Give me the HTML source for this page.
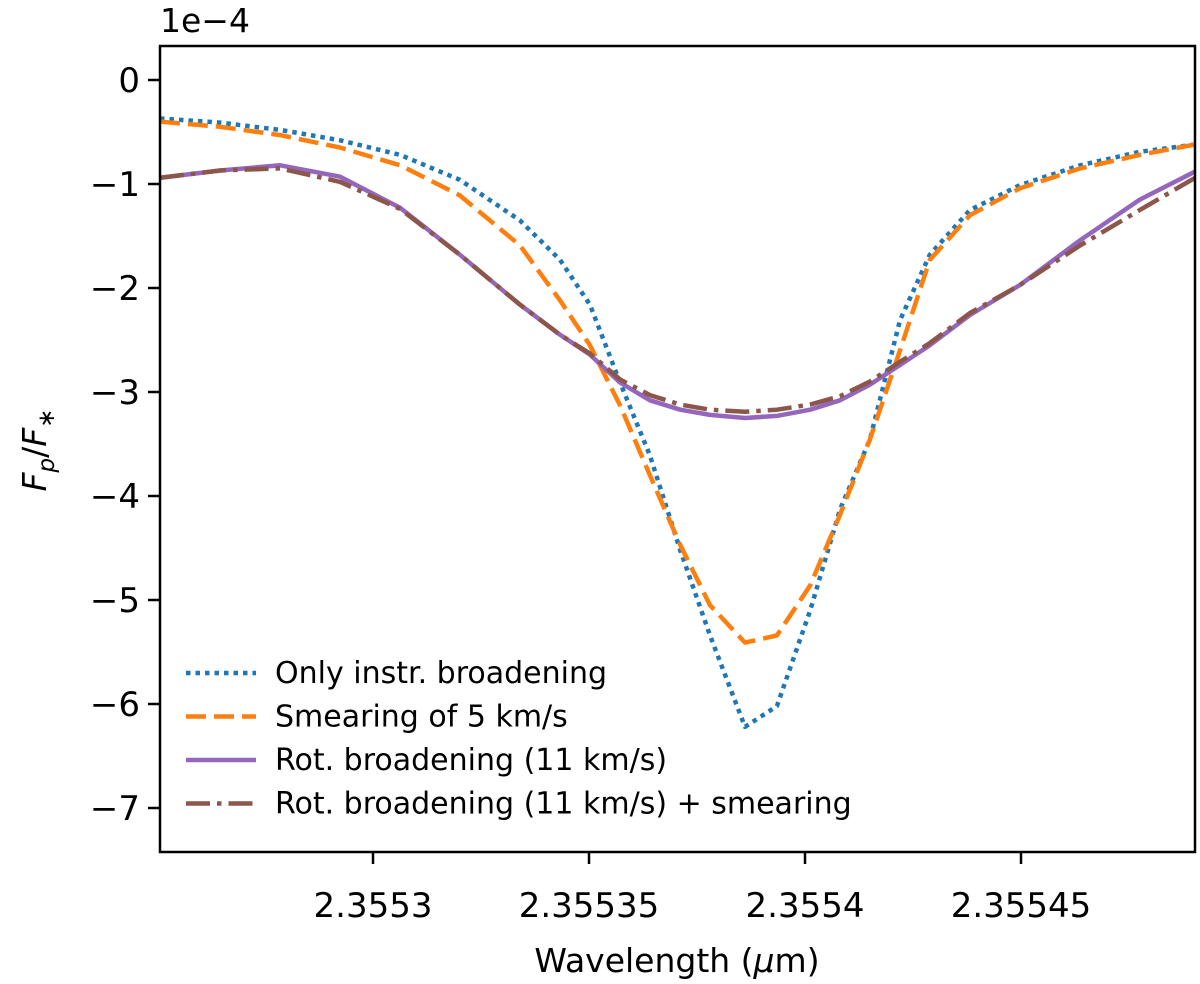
<!DOCTYPE html>
<html><head><meta charset="utf-8"><style>
body{margin:0;background:#fff}
svg text{font-family:"DejaVu Sans","Liberation Sans",sans-serif;fill:#000}
</style></head><body>
<svg id="chart" width="1200" height="984" viewBox="0 0 1200 984" xmlns="http://www.w3.org/2000/svg" style="position:absolute;left:0;top:0">
<g id="plot"></g>
<text x="160" y="32" font-size="33">1e−4</text>
<text x="677" y="972" text-anchor="middle" font-size="33">Wavelength (<tspan font-style="italic">μ</tspan>m)</text>
<text transform="translate(46,450) rotate(-90)" text-anchor="middle" font-size="33"><tspan font-style="italic">F</tspan><tspan font-style="italic" font-size="23" dy="8">p</tspan><tspan dy="-8">/</tspan><tspan font-style="italic">F</tspan><tspan font-size="23" dy="8">∗</tspan></text>
</svg>
<script>
const wavelengths=[2.3552507,2.3552646,2.3552785,2.3552924,2.3553063,2.3553201,2.3553340,2.3553433,2.3553502,2.3553572,2.3553641,2.3553711,2.3553780,2.3553861,2.3553935,2.3554012,2.3554081,2.3554150,2.3554220,2.3554289,2.3554382,2.3554498,2.3554637,2.3554775,2.3554903];
const instrOnly=[-0.37,-0.41,-0.48,-0.58,-0.72,-0.96,-1.35,-1.73,-2.16,-2.91,-3.61,-4.52,-5.34,-6.22,-6.02,-5.10,-4.13,-3.46,-2.31,-1.68,-1.25,-1.01,-0.82,-0.69,-0.62];
const smearing=[-0.40,-0.45,-0.53,-0.65,-0.82,-1.11,-1.59,-2.12,-2.55,-3.13,-3.80,-4.47,-5.05,-5.41,-5.34,-4.86,-4.18,-3.46,-2.60,-1.73,-1.30,-1.04,-0.85,-0.72,-0.62];
const rotBroad=[-0.94,-0.87,-0.82,-0.93,-1.23,-1.68,-2.16,-2.45,-2.64,-2.91,-3.08,-3.17,-3.22,-3.25,-3.23,-3.17,-3.08,-2.93,-2.74,-2.55,-2.26,-1.97,-1.54,-1.15,-0.88];
const rotSmear=[-0.94,-0.87,-0.85,-0.98,-1.24,-1.68,-2.16,-2.45,-2.63,-2.88,-3.03,-3.12,-3.17,-3.19,-3.17,-3.12,-3.04,-2.90,-2.71,-2.53,-2.24,-1.97,-1.59,-1.25,-0.94];
const yTicks=[0,-1,-2,-3,-4,-5,-6,-7];
const yTickLabels=["0","−1","−2","−3","−4","−5","−6","−7"];
const xTicks=[2.3553,2.35535,2.3554,2.35545];
const xTickLabels=["2.3553","2.35535","2.3554","2.35545"];
const legendLabels=["Only instr. broadening","Smearing of 5 km/s","Rot. broadening (11 km/s)","Rot. broadening (11 km/s) + smearing"];

const L=160,R=1195,T=46,B=852;
const X=v=>373+(v-2.3553)/0.00005*216;
const Y=v=>80-v*104;
const NS="http://www.w3.org/2000/svg";
const g=document.getElementById('plot');
function mk(tag,attrs,parent){const e=document.createElementNS(NS,tag);for(const k in attrs)e.setAttribute(k,attrs[k]);(parent||g).appendChild(e);return e;}

const clip=mk('clipPath',{id:'clip'});mk('rect',{x:L,y:T,width:R-L,height:B-T},clip);
const series=[
 {d:instrOnly,c:'#1f77b4',dash:'4.5 5',name:'series-instr-broadening'},
 {d:smearing,c:'#ff7f0e',dash:'20 8',name:'series-smearing-5kms'},
 {d:rotBroad,c:'#9467bd',dash:'',name:'series-rot-broadening'},
 {d:rotSmear,c:'#8c564b',dash:'24 7 4.5 7',name:'series-rot-broadening-smearing'}
];
[0,1,2,3].forEach(i=>{const s=series[i];
 const pts=wavelengths.map((w,j)=>X(w).toFixed(1)+','+Y(s.d[j]).toFixed(1)).join(' ');
 const p=mk('polyline',{points:pts,fill:'none',stroke:s.c,'stroke-width':4.5,'stroke-linejoin':'round','stroke-dasharray':s.dash,'clip-path':'url(#clip)'});
 
 
});
const frame=mk('rect',{x:L,y:T,width:R-L,height:B-T,fill:'none',stroke:'#000','stroke-width':2.5});


yTicks.forEach((v,i)=>{const y=Y(v);
 mk('line',{x1:L-12,x2:L,y1:y,y2:y,stroke:'#000','stroke-width':2.5});
 const t=mk('text',{x:L-20,y:y+12,'text-anchor':'end','font-size':34});t.textContent=yTickLabels[i];
 
 
});
xTicks.forEach((v,i)=>{const x=X(v);
 mk('line',{x1:x,x2:x,y1:B,y2:B+12,stroke:'#000','stroke-width':2.5});
 const t=mk('text',{x:x,y:B+65,'text-anchor':'middle','font-size':34});t.textContent=xTickLabels[i];
 
 
});
legendLabels.forEach((lab,i)=>{const y=673+i*43.5;const s=series[i];
 const ln=mk('line',{x1:186,x2:256,y1:y,y2:y,stroke:s.c,'stroke-width':4.5,'stroke-dasharray':s.dash});
 
 
 const t=mk('text',{x:275,y:y+10,'font-size':30});t.textContent=lab;
 
 
});
</script>
</body></html>
